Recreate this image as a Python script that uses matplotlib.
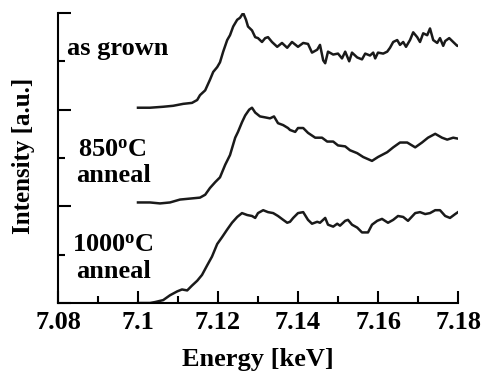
import numpy as np
import matplotlib
matplotlib.use("Agg")
import matplotlib.pyplot as plt
from matplotlib.ticker import MultipleLocator

plt.rcParams['font.family'] = ['Liberation Serif', 'DejaVu Serif']
plt.rcParams['font.weight'] = 'bold'
plt.rcParams['axes.labelweight'] = 'bold'
plt.rcParams['mathtext.fontset'] = 'custom'
plt.rcParams['mathtext.rm'] = 'Liberation Serif:bold'
plt.rcParams['mathtext.it'] = 'Liberation Serif:bold'
plt.rcParams['mathtext.bf'] = 'Liberation Serif:bold'

# --- data (energy in keV, intensity in a.u.) ---
e_grown = [7.1000, 7.1030, 7.1063, 7.1088, 7.1113, 7.1135, 7.1148, 7.1155, 7.1168, 7.1180,
           7.1188, 7.1198, 7.1205, 7.1213, 7.1223, 7.1230, 7.1238, 7.1248, 7.1255, 7.1263,
           7.1270, 7.1275, 7.1285, 7.1293, 7.1300, 7.1310, 7.1318, 7.1325, 7.1335, 7.1348,
           7.1360, 7.1373, 7.1385, 7.1400, 7.1413, 7.1425, 7.1435, 7.1448, 7.1455, 7.1463,
           7.1468, 7.1475, 7.1488, 7.1500, 7.1510, 7.1518, 7.1528, 7.1535, 7.1548, 7.1560,
           7.1568, 7.1580, 7.1588, 7.1593, 7.1600, 7.1613, 7.1623, 7.1630, 7.1638, 7.1648,
           7.1655, 7.1663, 7.1670, 7.1680, 7.1688, 7.1698, 7.1705, 7.1713, 7.1723, 7.1730,
           7.1738, 7.1748, 7.1755, 7.1763, 7.1768, 7.1778, 7.1788, 7.1798, 7.1800]
i_grown = [2.02, 2.02, 2.03, 2.04, 2.06, 2.07, 2.10, 2.15, 2.20, 2.31,
           2.39, 2.44, 2.49, 2.60, 2.72, 2.77, 2.86, 2.93, 2.95, 3.00,
           2.93, 2.86, 2.82, 2.75, 2.74, 2.70, 2.74, 2.75, 2.70, 2.65,
           2.69, 2.64, 2.70, 2.65, 2.69, 2.68, 2.59, 2.62, 2.67, 2.51,
           2.48, 2.60, 2.57, 2.58, 2.53, 2.60, 2.50, 2.59, 2.54, 2.52,
           2.58, 2.56, 2.59, 2.53, 2.59, 2.58, 2.60, 2.64, 2.70, 2.72,
           2.67, 2.70, 2.65, 2.72, 2.80, 2.75, 2.70, 2.79, 2.77, 2.84,
           2.72, 2.69, 2.74, 2.66, 2.71, 2.74, 2.70, 2.66, 2.66]

e_850 = [7.1000, 7.1030, 7.1055, 7.1080, 7.1105, 7.1130, 7.1155, 7.1168, 7.1180, 7.1193,
         7.1205, 7.1218, 7.1230, 7.1243, 7.1250, 7.1260, 7.1268, 7.1278, 7.1285, 7.1293,
         7.1305, 7.1318, 7.1330, 7.1340, 7.1350, 7.1363, 7.1375, 7.1380, 7.1393, 7.1400,
         7.1413, 7.1425, 7.1443, 7.1460, 7.1473, 7.1488, 7.1500, 7.1518, 7.1530, 7.1548,
         7.1563, 7.1585, 7.1600, 7.1623, 7.1638, 7.1655, 7.1673, 7.1693, 7.1710, 7.1725,
         7.1743, 7.1760, 7.1773, 7.1788, 7.1800]
i_850 = [1.04, 1.04, 1.03, 1.04, 1.07, 1.08, 1.09, 1.12, 1.19, 1.25,
         1.30, 1.43, 1.53, 1.71, 1.77, 1.87, 1.94, 2.00, 2.02, 1.97,
         1.93, 1.92, 1.91, 1.93, 1.86, 1.84, 1.81, 1.79, 1.77, 1.81,
         1.81, 1.76, 1.71, 1.71, 1.67, 1.67, 1.63, 1.62, 1.58, 1.55,
         1.51, 1.47, 1.51, 1.56, 1.61, 1.66, 1.66, 1.61, 1.66, 1.71,
         1.75, 1.71, 1.69, 1.71, 1.70]

e_1000 = [7.1000, 7.1030, 7.1043, 7.1063, 7.1080, 7.1098, 7.1110, 7.1123, 7.1135, 7.1148,
          7.1160, 7.1173, 7.1185, 7.1198, 7.1210, 7.1223, 7.1235, 7.1248, 7.1260, 7.1273,
          7.1285, 7.1293, 7.1300, 7.1313, 7.1325, 7.1338, 7.1350, 7.1363, 7.1373, 7.1380,
          7.1388, 7.1400, 7.1413, 7.1425, 7.1435, 7.1448, 7.1455, 7.1468, 7.1475, 7.1488,
          7.1498, 7.1505, 7.1518, 7.1525, 7.1535, 7.1548, 7.1560, 7.1575, 7.1585, 7.1598,
          7.1610, 7.1625, 7.1638, 7.1650, 7.1663, 7.1675, 7.1693, 7.1705, 7.1718, 7.1730,
          7.1743, 7.1755, 7.1768, 7.1780, 7.1793, 7.1800]
i_1000 = [0.00, 0.00, 0.01, 0.03, 0.08, 0.12, 0.14, 0.13, 0.18, 0.23,
          0.29, 0.39, 0.48, 0.61, 0.68, 0.76, 0.83, 0.89, 0.93, 0.91,
          0.90, 0.88, 0.93, 0.96, 0.94, 0.93, 0.90, 0.86, 0.83, 0.84,
          0.88, 0.93, 0.94, 0.86, 0.82, 0.84, 0.83, 0.88, 0.81, 0.79,
          0.82, 0.80, 0.85, 0.86, 0.81, 0.78, 0.73, 0.73, 0.81, 0.85,
          0.87, 0.83, 0.86, 0.90, 0.89, 0.85, 0.93, 0.94, 0.92, 0.93,
          0.96, 0.96, 0.90, 0.88, 0.92, 0.94]

x_ticks = [7.08, 7.10, 7.12, 7.14, 7.16, 7.18]
x_ticklabels = ['7.08', '7.1', '7.12', '7.14', '7.16', '7.18']

fig = plt.figure(figsize=(4.84, 3.71), dpi=100)
ax = fig.add_axes([0.1198, 0.1833, 0.8265, 0.7817])

for e, i in [(e_grown, i_grown), (e_850, i_850), (e_1000, i_1000)]:
    ax.plot(e, i, color='#1a1a1a', linewidth=1.8)

ax.set_xlim(7.08, 7.18)
ax.set_ylim(0, 3)
ax.set_xticks(x_ticks)
ax.set_xticklabels(x_ticklabels)
ax.xaxis.set_minor_locator(MultipleLocator(0.01))
ax.yaxis.set_major_locator(MultipleLocator(1))
ax.yaxis.set_minor_locator(MultipleLocator(0.5))
ax.set_yticklabels([])
ax.tick_params(which='both', direction='in', width=1.5, labelsize=19, pad=6)
ax.tick_params(which='major', length=9)
ax.tick_params(which='minor', length=5)
for s in ['top', 'right']:
    ax.spines[s].set_visible(False)
for s in ['left', 'bottom']:
    ax.spines[s].set_linewidth(1.5)

ax.set_xlabel('Energy [keV]', fontsize=19, fontweight='bold')
ax.set_ylabel('Intensity [a.u.]', fontsize=18, fontweight='bold')
ax.xaxis.set_label_coords(0.5, -0.155)
ax.yaxis.set_label_coords(-0.0575, 0.507)

txt = dict(fontsize=19, fontweight='bold', va='baseline', clip_on=False)
ax.text(7.0823, 2.565, 'as grown', ha='left', **txt)
ax.text(7.0935, 1.51, r'850$^{\mathrm{o}}$C', ha='center', **txt)
ax.text(7.0938, 1.25, 'anneal', ha='center', **txt)
ax.text(7.0936, 0.53, r'1000$^{\mathrm{o}}$C', ha='center', **txt)
ax.text(7.0938, 0.26, 'anneal', ha='center', **txt)

fig.savefig('out.png', dpi=100)
